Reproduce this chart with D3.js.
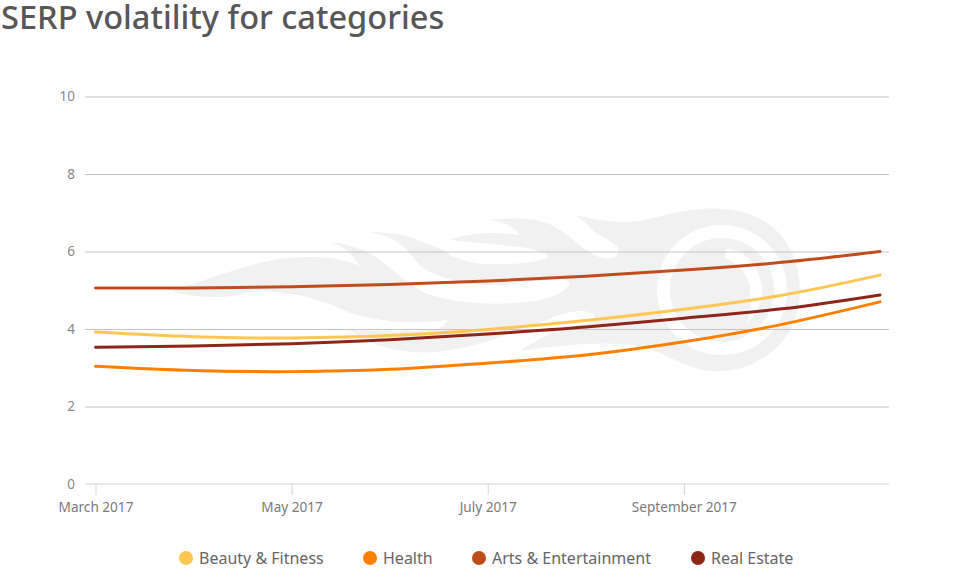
<!DOCTYPE html>
<html>
<head>
<meta charset="utf-8">
<title>SERP volatility for categories</title>
<script src="https://cdn.jsdelivr.net/npm/d3@7"></script>
<style>
  html, body { margin: 0; padding: 0; background: #fff; overflow: hidden; }
  svg { display: block; font-family: "Noto Sans", sans-serif; }
  .y-axis text { fill: #8a8a8a; font-size: 13.5px; font-family: "Noto Sans", sans-serif; }
  .x-axis text { fill: #7a7a7a; font-size: 13.6px; font-family: "Noto Sans", sans-serif; }
</style>
</head>
<body>
<svg id="chart" width="975" height="569"></svg>
<script>
var months = ['March 2017', 'April 2017', 'May 2017', 'June 2017', 'July 2017', 'August 2017', 'September 2017', 'October 2017', 'November 2017'];
var monthTicks = ['March 2017', 'May 2017', 'July 2017', 'September 2017'];
var valueTicks = [0, 2, 4, 6, 8, 10];

var beautyFitness = [3.92, 3.80, 3.77, 3.83, 3.99, 4.22, 4.51, 4.87, 5.39];
var health = [3.04, 2.93, 2.90, 2.96, 3.12, 3.33, 3.67, 4.12, 4.70];
var artsEntertainment = [5.06, 5.06, 5.09, 5.15, 5.24, 5.36, 5.52, 5.72, 6.00];
var realEstate = [3.53, 3.56, 3.62, 3.72, 3.87, 4.05, 4.28, 4.52, 4.88];

var seriesNames = ['Beauty & Fitness', 'Health', 'Arts & Entertainment', 'Real Estate'];
var seriesValues = [beautyFitness, health, artsEntertainment, realEstate];
var seriesColors = ['#ffc654', '#ff8000', '#bf4e1c', '#8e2618'];
var legendX = [186, 370, 479, 698];

// flame logo behind the plot
var flame = 'M173,291 C200,282 250,262 287,258 C310,256 340,256 360,266 L350,253 C345,248 338,245 330,242 ' +
  'C350,244 365,250 380,260 C395,272 410,284 423,292 C445,302 480,305 513,303 C535,302 560,298 569,285 ' +
  'C570,280 565,279 560,279 C540,280 520,284 500,285 C475,286 447,282 423,268 C415,262 412,255 407,250 ' +
  'C395,238 382,234 368,232 C380,232 400,233 413,238 C425,243 435,247 443,250 C450,255 455,258 463,260 ' +
  'C475,264 485,265 497,264 C515,264 540,263 548,257 C550,254 540,251 527,248 C510,246 495,244 480,243 ' +
  'C470,242 460,241 450,240 C460,236 475,233 490,233 C500,233 510,234 520,235 C515,228 505,222 490,220 ' +
  'C505,218 530,217 547,223 C558,228 565,233 570,237 C578,244 585,250 590,252 C597,258 608,260 613,258 ' +
  'C620,255 620,248 615,245 C608,238 595,234 590,228 C585,222 580,218 575,215 C590,218 605,222 623,222 ' +
  'C650,222 670,211 700,209 C730,207 752,212 770,225 C790,240 800,265 800,292 C800,320 785,345 763,358 ' +
  'C745,369 730,372 710,371 C690,369 675,359 657,352 C645,347 635,345 623,344 C590,342 555,346 520,351 ' +
  'C528,346 536,341 547,335 C555,332 562,330 567,328 C578,325 590,324 594,319 C597,314 590,311 580,311 ' +
  'C565,312 555,316 547,320 C535,324 515,332 500,337 C485,343 465,348 450,350 C430,354 405,353 383,347 ' +
  'C372,343 360,336 350,330 C375,331 405,332 433,330 C440,329 446,325 447,320 C435,322 425,322 417,322 ' +
  'C400,323 390,321 383,320 C370,318 360,316 350,313 C340,308 330,304 317,300 C305,296 295,294 283,293 ' +
  'C270,291 260,291 250,292 C240,295 228,297 217,297 C203,297 185,296 173,291 Z';
var flameHook = 'M725,250 C733,246 745,254 752,262 C760,272 764,288 761,300 C758,310 753,318 747,323 ' +
  'C750,315 751,300 750,288 C748,278 744,272 738,266 C733,262 729,259 725,258 Z';

var svg = d3.select('#chart');

var x = d3.scalePoint().domain(months).range([95.5, 880]);
var y = d3.scaleLinear().domain([0, 10]).range([484, 96.5]);

// title
svg.append('text')
  .attr('x', 1)
  .attr('y', 29)
  .attr('fill', '#575757')
  .attr('font-size', 32.6)
  .attr('font-weight', 500)
  .text('SERP volatility for categories');

// watermark
var logo = svg.append('g');
logo.append('path').attr('d', flame).attr('fill', '#f1f1f1');
logo.append('circle')
  .attr('cx', 722).attr('cy', 290).attr('r', 58.5)
  .attr('fill', 'none')
  .attr('stroke', '#fff')
  .attr('stroke-width', 13);
logo.append('path').attr('d', flameHook).attr('fill', '#fff');

// y axis with grid lines
var yAxis = svg.append('g')
  .attr('class', 'y-axis')
  .attr('transform', 'translate(85,0)')
  .call(d3.axisLeft(y).tickValues(valueTicks).tickSize(-804).tickPadding(10));
yAxis.select('.domain').remove();
yAxis.selectAll('line').attr('stroke', '#c4c4c4').attr('stroke-opacity', function(d) { return d === 0 ? 0 : 1; });

// x axis
svg.append('line')
  .attr('x1', 85).attr('x2', 889)
  .attr('y1', y(0)).attr('y2', y(0))
  .attr('stroke', '#d9d5d1');
var xAxis = svg.append('g')
  .attr('class', 'x-axis')
  .attr('transform', 'translate(0,' + y(0) + ')')
  .call(d3.axisBottom(x).tickValues(monthTicks).tickSize(11).tickPadding(7));
xAxis.select('.domain').remove();
xAxis.selectAll('line').attr('stroke', '#d9d5d1');

// series lines
var line = d3.line()
  .x(function(d, i) { return x(months[i]); })
  .y(function(d) { return y(d); })
  .curve(d3.curveNatural);

svg.append('g').selectAll('path')
  .data(seriesValues)
  .enter().append('path')
  .attr('d', line)
  .attr('fill', 'none')
  .attr('stroke', function(d, i) { return seriesColors[i]; })
  .attr('stroke-width', 3)
  .attr('stroke-linecap', 'round');

// legend
var legend = svg.append('g').selectAll('g')
  .data(seriesNames)
  .enter().append('g')
  .attr('transform', function(d, i) { return 'translate(' + legendX[i] + ',558)'; });
legend.append('circle')
  .attr('r', 7)
  .attr('fill', function(d, i) { return seriesColors[i]; });
legend.append('text')
  .attr('x', 13)
  .attr('y', 5.5)
  .attr('fill', '#666')
  .attr('font-size', 16)
  .text(function(d) { return d; });
</script>
</body>
</html>
